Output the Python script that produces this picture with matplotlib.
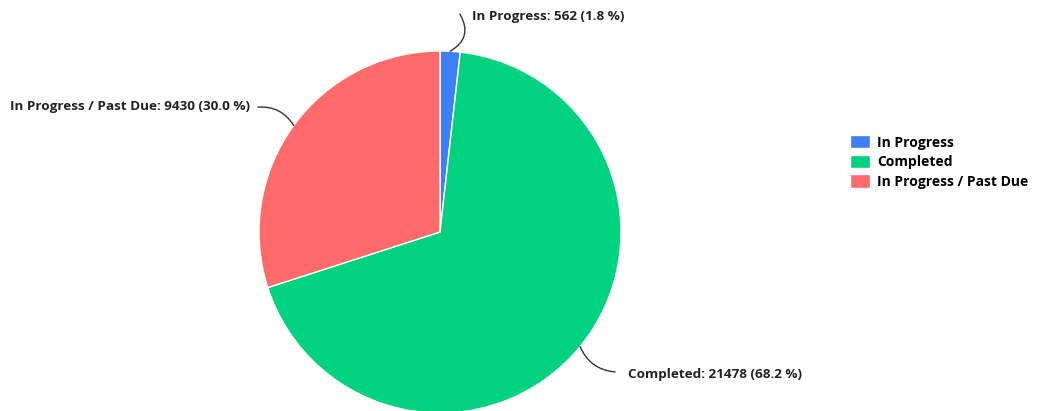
import matplotlib.pyplot as plt
import numpy as np

# ================= Data =================
labels = ['In Progress', 'Completed', 'In Progress / Past Due']
values = [562, 21478, 9430]
colors = ['#3d80f5', '#00d27f', '#ff6b6b']
# label text positions (pie radius units) and leader line ends
text_pos = [(0.177, 1.193), (1.039, -0.79), (-1.05, 0.696)]
line_end = [(0.11, 1.204), (0.967, -0.773), (-1.006, 0.69)]
text_ha = ['left', 'left', 'right']
line_rad = [-0.5, -0.3, -0.3]
# ========================================

plt.rcParams['font.family'] = ['Open Sans', 'DejaVu Sans']

W, H = 1037, 411
fig = plt.figure(figsize=(W / 100, H / 100), dpi=100)

cx, cy, r = 440, 232, 181
ax = fig.add_axes([(cx - r) / W, (H - cy - r) / H, 2 * r / W, 2 * r / H])

wedges, _ = ax.pie(values, colors=colors, startangle=90, counterclock=False,
                   radius=1, wedgeprops=dict(edgecolor='white', linewidth=1))
for w in wedges:
    w.set_clip_on(False)

# pie() resets the limits, so set them afterwards
ax.set_xlim(-1, 1)
ax.set_ylim(-1, 1)
ax.set_aspect('equal')
ax.axis('off')

total = sum(values)
for i, w in enumerate(wedges):
    ang = np.deg2rad((w.theta1 + w.theta2) / 2)
    edge = (np.cos(ang), np.sin(ang))
    pct = values[i] / total * 100
    ax.annotate('', xy=edge, xytext=line_end[i],
                arrowprops=dict(arrowstyle='-', color='#333333', lw=1,
                                connectionstyle=f'arc3,rad={line_rad[i]}',
                                shrinkA=0, shrinkB=0),
                annotation_clip=False)
    ax.text(text_pos[i][0], text_pos[i][1],
            f'{labels[i]}: {values[i]} ({pct:.1f} %)',
            ha=text_ha[i], va='center', fontsize=9.7, fontweight='bold',
            color='#222222', clip_on=False)

leg = fig.legend(wedges, labels, loc='center left',
                 bbox_to_anchor=(843 / W, 1 - 162 / H), frameon=False,
                 borderpad=0, handlelength=1.45, handleheight=1.1,
                 handletextpad=0.5, labelspacing=0.38,
                 prop=dict(size=10, weight='bold'))

fig.savefig('out.png', dpi=100)
